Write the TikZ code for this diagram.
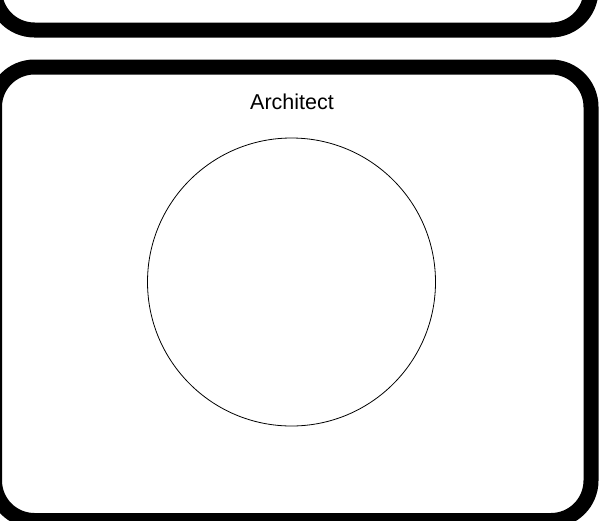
\documentclass[tikz,border=0pt]{standalone}
\usepackage{fontspec}
\setmainfont{Liberation Sans}
\begin{document}
\begin{tikzpicture}[x=1pt,y=-1pt,
  lane/.style={draw=black,line width=15pt,rounded corners=40pt,fill=white},
  ring/.style={draw=black,line width=0.8pt,circle,minimum size=288pt,inner sep=0pt},
  title/.style={font=\fontsize{21.5}{24}\selectfont,anchor=base,inner sep=0pt}]
\useasboundingbox (0,0) rectangle (607,520);
\fill[white] (0,0) rectangle (607,520);
\draw[lane] (-5.5,-200) rectangle (591,30);
\draw[lane] (-5.5,67) rectangle (591,520.5);
\node[title] (arch) at (292,109.7) {Architect};
\node[ring] (c) at (291.5,282) {};
\end{tikzpicture}
\end{document}
